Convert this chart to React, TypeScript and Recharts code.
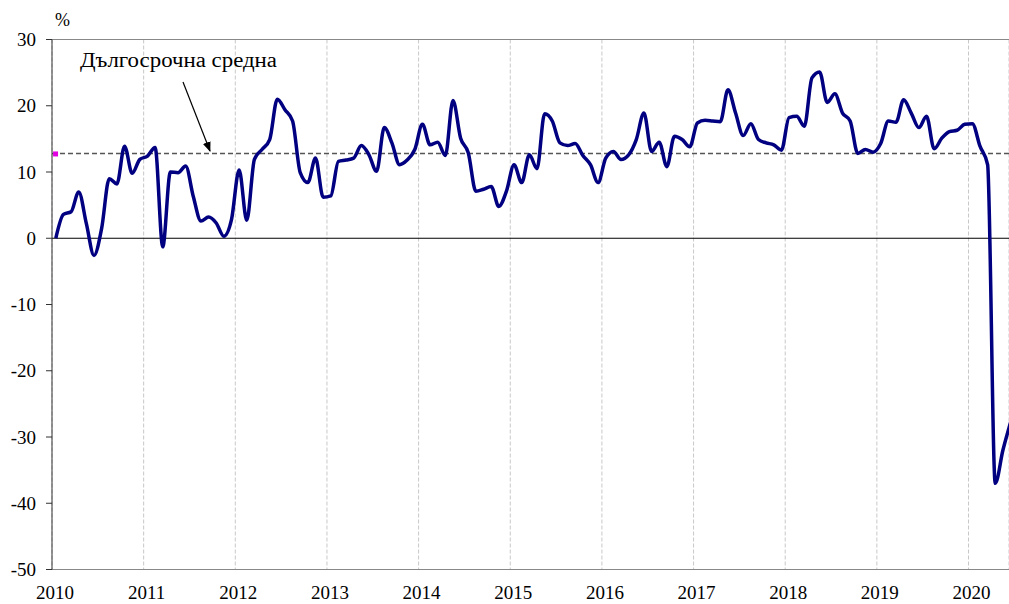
import { CartesianGrid, Customized, Line, LineChart, ReferenceDot, ReferenceLine, XAxis, YAxis } from "recharts";

// monthly values, Jan 2010 .. Jun 2020
const values = [
  0, 3.6, 4.0, 7.0, 2.2, -2.6, 1.5, 9.0, 8.2, 13.9, 9.8, 11.9,
  12.4, 13.7, -1.3, 10.0, 9.9, 10.9, 6.3, 2.6, 3.2, 2.3, 0.3, 2.8,
  10.3, 2.7, 11.9, 13.4, 14.9, 21.0, 19.4, 17.7, 9.9, 8.4, 12.1, 6.2,
  6.4, 11.6, 11.8, 12.1, 14.0, 12.6, 10.1, 16.7, 14.4, 11.1, 11.8, 13.4,
  17.2, 14.1, 14.5, 12.5, 20.8, 15.1, 12.9, 7.1, 7.4, 7.8, 4.8, 7.1,
  11.1, 8.4, 12.6, 10.5, 18.8, 17.7, 14.4, 14.0, 14.3, 12.5, 11.1, 8.4,
  12.1, 13.1, 11.9, 12.6, 14.9, 18.9, 13.1, 14.5, 10.8, 15.4, 14.9, 13.8,
  17.4, 17.8, 17.7, 17.6, 22.4, 18.9, 15.5, 17.3, 14.9, 14.4, 14.1, 13.3,
  18.2, 18.4, 16.9, 24.2, 25.1, 20.5, 21.8, 18.9, 17.7, 12.8, 13.4, 13.0,
  14.3, 17.7, 17.5, 20.9, 18.9, 16.7, 18.4, 13.5, 15.1, 16.1, 16.3, 17.2,
  17.3, 13.9, 11.1, -37.0, -32.0, -27.8,
];
const years = [2010, 2011, 2012, 2013, 2014, 2015, 2016, 2017, 2018, 2019, 2020];
const yTicks = [-50, -40, -30, -20, -10, 0, 10, 20, 30];
const longTermAvg = 12.8;
const avgLabel = "Дългосрочна средна";

const data = values.map((v, i) => ({ m: i + 0.5, v }));
const xTicks = years.map((_, i) => i * 12);

const font = "'Liberation Serif', 'Times New Roman', serif";

const Notes = () => (
  <g>
    <defs>
      <marker id="arr" markerWidth="10" markerHeight="8" refX="9" refY="4" orient="auto" markerUnits="userSpaceOnUse">
        <path d="M0,0 L10,4 L0,8 Z" fill="#000" />
      </marker>
    </defs>
    <text x={55} y={26} fontFamily={font} fontSize={18} fill="#000">%</text>
    <text
      x={80}
      y={67}
      fontFamily={font}
      fontSize={20}
      fill="#000"
      textLength={197}
      lengthAdjust="spacingAndGlyphs"
    >
      {avgLabel}
    </text>
    <line x1={183} y1={82} x2={210} y2={151} stroke="#000" strokeWidth={1.2} markerEnd="url(#arr)" />
  </g>
);

export default function App() {
  return (
    <div style={{ position: "absolute", left: 0, top: 0 }}>
      <LineChart width={1009} height={604} data={data} margin={{ top: 39.5, right: 0, bottom: 0, left: 0 }}>
        <CartesianGrid horizontal={false} stroke="#c8c8c8" strokeDasharray="4 2" />
        <XAxis
          type="number"
          dataKey="m"
          domain={[0, 125.3]}
          allowDataOverflow
          ticks={xTicks}
          tickFormatter={(m: number) => String(2010 + m / 12)}
          tickLine={false}
          tickSize={0}
          tickMargin={16}
          height={34.5}
          stroke="#888"
          tick={{ fill: "#000", fontFamily: font, fontSize: 19, dx: 3 }}
        />
        <YAxis
          type="number"
          domain={[-50, 30]}
          ticks={yTicks}
          width={52}
          tickSize={6}
          tickMargin={10}
          stroke="#333"
          tick={{ fill: "#000", fontFamily: font, fontSize: 19 }}
        />
        <ReferenceLine y={30} stroke="#888" strokeWidth={1.2} />
        <ReferenceLine y={0} stroke="#000" strokeWidth={1.2} />
        <ReferenceLine y={longTermAvg} stroke="#555" strokeWidth={1.5} strokeDasharray="5 3" />
        <ReferenceDot
          x={0.4}
          y={longTermAvg}
          r={3}
          shape={(p: any) => <rect x={p.cx - 2} y={p.cy - 2} width={5} height={5} fill="#e000e0" />}
        />
        <Line
          type="monotone"
          dataKey="v"
          stroke="#000080"
          strokeWidth={3.5}
          dot={false}
          isAnimationActive={false}
        />
        <Customized component={Notes} />
      </LineChart>
    </div>
  );
}
